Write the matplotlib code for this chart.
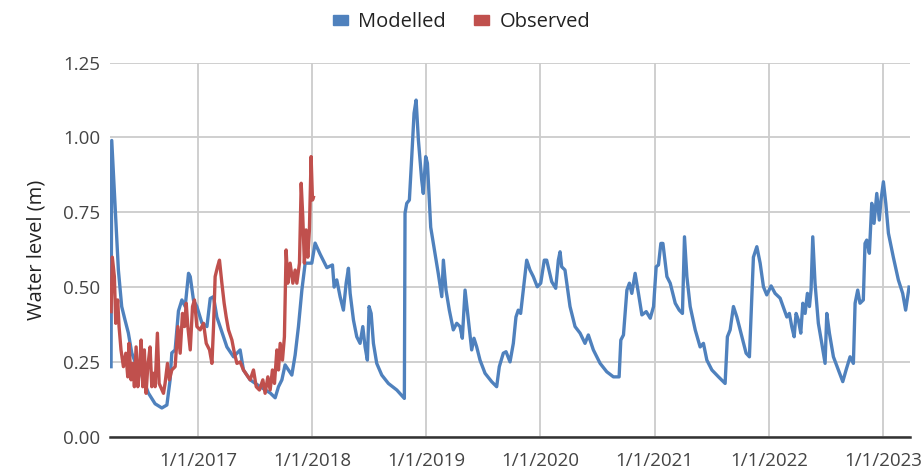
import datetime as dt
import matplotlib.pyplot as plt
from matplotlib.patches import Patch

# dates
model_t = [2016.241, 2016.247, 2016.276, 2016.305, 2016.334, 2016.363, 2016.392, 2016.422, 2016.451,
           2016.495, 2016.567, 2016.626, 2016.685, 2016.729, 2016.757, 2016.772, 2016.801, 2016.830,
           2016.860, 2016.889, 2016.918, 2016.933, 2016.961, 2016.991, 2017.035, 2017.079, 2017.108,
           2017.137, 2017.166, 2017.224, 2017.254, 2017.312, 2017.370, 2017.399, 2017.458, 2017.546,
           2017.634, 2017.677, 2017.706, 2017.736, 2017.764, 2017.793, 2017.823, 2017.852, 2017.881,
           2017.911, 2017.940, 2017.998, 2018.027, 2018.071, 2018.130, 2018.179, 2018.194, 2018.217,
           2018.246, 2018.275, 2018.299, 2018.319, 2018.334, 2018.363, 2018.392, 2018.421, 2018.445,
           2018.465, 2018.485, 2018.500, 2018.518, 2018.538, 2018.567, 2018.611, 2018.669, 2018.743,
           2018.809, 2018.815, 2018.830, 2018.853, 2018.874, 2018.894, 2018.912, 2018.932, 2018.961,
           2018.975, 2018.996, 2019.011, 2019.040, 2019.077, 2019.106, 2019.137, 2019.151, 2019.174,
           2019.203, 2019.238, 2019.268, 2019.297, 2019.317, 2019.341, 2019.370, 2019.399, 2019.419,
           2019.443, 2019.472, 2019.516, 2019.574, 2019.618, 2019.641, 2019.676, 2019.700, 2019.735,
           2019.764, 2019.787, 2019.807, 2019.828, 2019.851, 2019.881, 2019.910, 2019.939, 2019.974,
           2020.004, 2020.035, 2020.056, 2020.100, 2020.135, 2020.158, 2020.173, 2020.187, 2020.216,
           2020.260, 2020.304, 2020.348, 2020.391, 2020.420, 2020.464, 2020.523, 2020.581, 2020.639,
           2020.689, 2020.704, 2020.727, 2020.757, 2020.779, 2020.800, 2020.829, 2020.858, 2020.888,
           2020.926, 2020.961, 2020.990, 2021.013, 2021.033, 2021.054, 2021.072, 2021.107, 2021.136,
           2021.180, 2021.215, 2021.243, 2021.261, 2021.282, 2021.311, 2021.355, 2021.398, 2021.427,
           2021.457, 2021.501, 2021.559, 2021.617, 2021.637, 2021.661, 2021.690, 2021.720, 2021.764,
           2021.801, 2021.830, 2021.865, 2021.895, 2021.924, 2021.953, 2021.982, 2022.020, 2022.055,
           2022.099, 2022.158, 2022.180, 2022.201, 2022.222, 2022.239, 2022.259, 2022.280, 2022.298,
           2022.318, 2022.338, 2022.356, 2022.370, 2022.385, 2022.405, 2022.434, 2022.464, 2022.493,
           2022.508, 2022.531, 2022.566, 2022.609, 2022.648, 2022.677, 2022.712, 2022.741, 2022.756,
           2022.779, 2022.799, 2022.828, 2022.843, 2022.858, 2022.881, 2022.902, 2022.922, 2022.946,
           2022.968, 2022.983, 2023.004, 2023.025, 2023.048, 2023.091, 2023.135, 2023.173, 2023.199,
           2023.229]
model_v = [0.234, 0.99, 0.77, 0.557, 0.435, 0.39, 0.347, 0.28, 0.25,
           0.22, 0.146, 0.11, 0.096, 0.106, 0.19, 0.28, 0.29, 0.42,
           0.457, 0.435, 0.546, 0.535, 0.457, 0.435, 0.38, 0.368, 0.462,
           0.468, 0.40, 0.334, 0.30, 0.267, 0.29, 0.223, 0.19, 0.167,
           0.146, 0.13, 0.167, 0.19, 0.24, 0.223, 0.206, 0.273, 0.368,
           0.49, 0.58, 0.58, 0.647, 0.61, 0.565, 0.574, 0.50, 0.524,
           0.468, 0.423, 0.513, 0.563, 0.479, 0.39, 0.334, 0.312, 0.368,
           0.30, 0.256, 0.435, 0.412, 0.312, 0.245, 0.206, 0.178, 0.156,
           0.128, 0.747, 0.78, 0.791, 0.936, 1.081, 1.125, 0.992, 0.858,
           0.813, 0.936, 0.914, 0.70, 0.613, 0.546, 0.468, 0.59, 0.49,
           0.423, 0.357, 0.379, 0.368, 0.329, 0.49, 0.39, 0.29, 0.329,
           0.30, 0.256, 0.212, 0.184, 0.167, 0.234, 0.279, 0.284, 0.25,
           0.312, 0.40, 0.423, 0.412, 0.49, 0.59, 0.557, 0.535, 0.501,
           0.513, 0.59, 0.59, 0.518, 0.496, 0.59, 0.618, 0.568, 0.557,
           0.435, 0.368, 0.346, 0.312, 0.34, 0.29, 0.245, 0.217, 0.20,
           0.20, 0.323, 0.34, 0.49, 0.513, 0.479, 0.546, 0.479, 0.407,
           0.418, 0.396, 0.435, 0.568, 0.574, 0.646, 0.646, 0.535, 0.513,
           0.446, 0.423, 0.412, 0.668, 0.535, 0.435, 0.357, 0.30, 0.312,
           0.256, 0.223, 0.20, 0.178, 0.334, 0.357, 0.435, 0.40, 0.334,
           0.279, 0.267, 0.60, 0.635, 0.58, 0.501, 0.474, 0.504, 0.479,
           0.463, 0.40, 0.412, 0.368, 0.334, 0.412, 0.39, 0.346, 0.446,
           0.412, 0.479, 0.435, 0.49, 0.668, 0.513, 0.379, 0.312, 0.245,
           0.412, 0.346, 0.267, 0.223, 0.184, 0.223, 0.267, 0.245, 0.446,
           0.49, 0.446, 0.457, 0.646, 0.657, 0.613, 0.78, 0.713, 0.813,
           0.724, 0.791, 0.852, 0.78, 0.68, 0.60, 0.524, 0.479, 0.423,
           0.50]

obs_t = [2016.241, 2016.252, 2016.270, 2016.282, 2016.299, 2016.311, 2016.328, 2016.349, 2016.370,
         2016.387, 2016.398, 2016.416, 2016.433, 2016.445, 2016.460, 2016.475, 2016.489, 2016.504,
         2016.518, 2016.532, 2016.547, 2016.562, 2016.582, 2016.597, 2016.611, 2016.626, 2016.646,
         2016.661, 2016.699, 2016.713, 2016.734, 2016.751, 2016.772, 2016.801, 2016.825, 2016.845,
         2016.865, 2016.883, 2016.898, 2016.912, 2016.933, 2016.953, 2016.970, 2016.991, 2017.020,
         2017.049, 2017.073, 2017.102, 2017.123, 2017.137, 2017.151, 2017.172, 2017.189, 2017.210,
         2017.230, 2017.248, 2017.268, 2017.298, 2017.320, 2017.342, 2017.370, 2017.399, 2017.429,
         2017.458, 2017.487, 2017.511, 2017.539, 2017.569, 2017.589, 2017.613, 2017.633, 2017.653,
         2017.671, 2017.692, 2017.706, 2017.721, 2017.741, 2017.758, 2017.773, 2017.788, 2017.808,
         2017.832, 2017.852, 2017.867, 2017.890, 2017.905, 2017.919, 2017.933, 2017.948, 2017.963,
         2017.977, 2017.992, 2018.004, 2018.012]
obs_v = [0.418, 0.60, 0.535, 0.379, 0.457, 0.368, 0.29, 0.234, 0.279,
         0.20, 0.312, 0.19, 0.245, 0.167, 0.30, 0.167, 0.223, 0.323,
         0.167, 0.29, 0.145, 0.234, 0.30, 0.167, 0.212, 0.167, 0.346,
         0.178, 0.145, 0.178, 0.245, 0.19, 0.223, 0.234, 0.368, 0.279,
         0.412, 0.368, 0.446, 0.368, 0.29, 0.435, 0.457, 0.368, 0.357,
         0.379, 0.312, 0.29, 0.245, 0.368, 0.535, 0.568, 0.59, 0.513,
         0.446, 0.40, 0.357, 0.323, 0.279, 0.245, 0.25, 0.223, 0.206,
         0.19, 0.223, 0.167, 0.156, 0.19, 0.145, 0.20, 0.156, 0.223,
         0.178, 0.29, 0.223, 0.312, 0.256, 0.334, 0.624, 0.513, 0.58,
         0.513, 0.557, 0.513, 0.58, 0.847, 0.735, 0.58, 0.691, 0.60,
         0.691, 0.936, 0.791, 0.80]

year_ticks = [2017, 2018, 2019, 2020, 2021, 2022, 2023]


def to_date(y):
    yr = int(y)
    start = dt.datetime(yr, 1, 1)
    days = (dt.datetime(yr + 1, 1, 1) - start).days
    return start + dt.timedelta(days=(y - yr) * days)


plt.rcParams['font.family'] = ['Open Sans', 'DejaVu Sans']

fig = plt.figure(figsize=(9.23, 4.72), dpi=100)
ax = fig.add_axes([0.1192, 0.0748, 0.8667, 0.7924])

blue = '#4f81bd'
red = '#c0504d'
ax.plot([to_date(t) for t in model_t], model_v, color=blue, lw=2.4, solid_joinstyle='round', zorder=3)
ax.plot([to_date(t) for t in obs_t], obs_v, color=red, lw=2.4, solid_joinstyle='round', zorder=4)

ax.set_xlim(to_date(2016.232), to_date(2023.237))
ax.set_ylim(0, 1.25)
ax.set_yticks([0, 0.25, 0.5, 0.75, 1.0, 1.25])
ax.set_yticklabels(['0.00', '0.25', '0.50', '0.75', '1.00', '1.25'])
ax.set_xticks([dt.datetime(y, 1, 1) for y in year_ticks])
ax.set_xticklabels(['1/1/%d' % y for y in year_ticks])

ax.grid(True, color='#cccccc', lw=1.3)
ax.set_axisbelow(True)
for s in ['top', 'right', 'left']:
    ax.spines[s].set_visible(False)
ax.spines['bottom'].set_color('#333333')
ax.spines['bottom'].set_linewidth(1.8)
ax.tick_params(length=0, labelsize=13.5, colors='#444444')
ax.tick_params(axis='y', pad=7)
ax.tick_params(axis='x', pad=11)
ax.set_ylabel('Water level (m)', fontsize=14.5, color='#222222', labelpad=12)

handles = [Patch(color=blue, label='Modelled'), Patch(color=red, label='Observed')]
fig.legend(handles=handles, loc='upper center', bbox_to_anchor=(0.5, 1.012), ncol=2, frameon=False,
           fontsize=14.5, handlelength=0.75, handleheight=0.4, handletextpad=0.5, columnspacing=1.4,
           labelcolor='#222222')

fig.savefig('out.png', dpi=100)
